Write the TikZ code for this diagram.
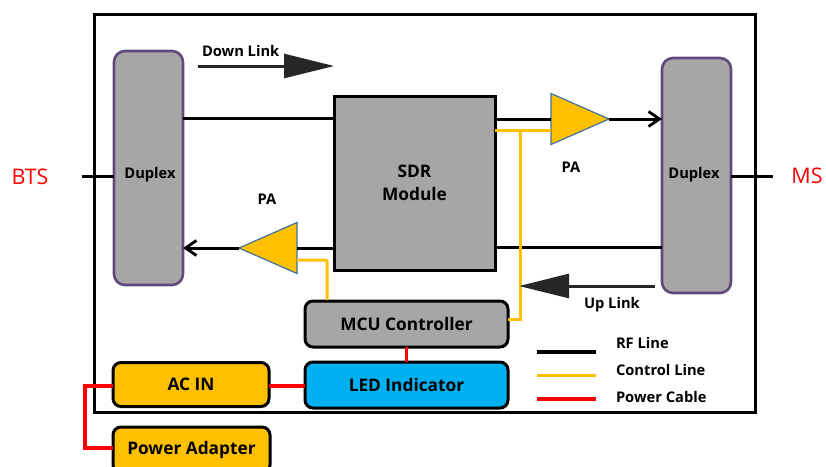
\documentclass[tikz,border=0pt]{standalone}
\usepackage{fontspec}
\setmainfont{Open Sans}
\usetikzlibrary{arrows.meta,shapes.geometric}
\definecolor{boxGray}{RGB}{166,166,166}
\definecolor{ctrlYellow}{RGB}{255,192,0}
\definecolor{ledBlue}{RGB}{0,176,240}
\definecolor{duplexEdge}{RGB}{96,74,123}
\definecolor{ampEdge}{RGB}{65,113,156}
\definecolor{linkDark}{RGB}{38,38,38}
\tikzset{
  lbl/.style={font=\bfseries\fontsize{14.7}{17}\selectfont,text=black,inner sep=0pt,outer sep=0pt},
  boxlbl/.style={font=\bfseries\fontsize{17.3}{23}\selectfont,text=black,align=center},
  block/.style={boxlbl,draw=black,line width=3pt,rounded corners=8pt,inner sep=0pt,outer sep=0pt},
  duplexbox/.style={draw=duplexEdge,fill=boxGray,line width=2.6pt,rounded corners=11pt,minimum width=69pt,minimum height=234pt,inner sep=0pt,outer sep=0pt},
  amp/.style={isosceles triangle,isosceles triangle stretches,draw=ampEdge,fill=ctrlYellow,line width=1.2pt,minimum width=51pt,minimum height=58pt,inner sep=0pt,outer sep=0pt},
  rfline/.style={draw=black,line width=3pt},
  ctrlline/.style={draw=ctrlYellow,line width=3pt},
  powerline/.style={draw=red,line width=3.2pt},
  rfarrow/.style={rfline,-{Straight Barb[length=11pt,width=15pt,line width=2.8pt]}},
  linkarrow/.style={draw=linkDark,line width=3pt,-{Triangle[length=50pt,width=24pt]}},
  sidelbl/.style={font=\fontsize{21.5}{24}\selectfont,text=red,inner sep=0pt}
}
\begin{document}
\begin{tikzpicture}[x=1pt,y=-1pt]
\useasboundingbox (0,0) rectangle (826,466);
% enclosure
\node[draw=black,line width=3pt,minimum width=661pt,minimum height=398pt,inner sep=0pt,outer sep=0pt] (case) at (424.5,213) {};

\node[duplexbox] (duplexL) at (148.5,168) {};
\node[duplexbox,minimum height=235pt] (duplexR) at (696.5,175.5) {};
\node[lbl] (duplexLLbl) at (150,175) {Duplex};
\node[lbl] (duplexRLbl) at (694,175) {Duplex};
\node[block,draw=black,fill=boxGray,rounded corners=0pt,minimum width=161pt,minimum height=174pt] (sdr) at (414.5,183) {SDR\\Module};

\node[amp,anchor=apex] (paTop) at (609,119) {};
\node[amp,shape border rotate=180,anchor=apex] (paBot) at (239,248) {};

\node[block,fill=boxGray,minimum width=203pt,minimum height=46pt] (mcu) at (406.5,324) {MCU Controller};
\node[block,fill=ledBlue,minimum width=203pt,minimum height=46pt] (led) at (406.5,385) {LED Indicator};
\node[block,fill=ctrlYellow,minimum width=156pt,minimum height=44pt] (acin) at (191,384.5) {AC IN};
\node[block,fill=ctrlYellow,minimum width=157pt,minimum height=46pt] (adapter) at (191.5,450) {Power Adapter};

\node[sidelbl] (bts) at (30,177) {BTS};
\node[sidelbl] (ms) at (807,176) {MS};
\coordinate (btsEnd) at (82,176);
\coordinate (msEnd) at (773,176);

\node[lbl] (paTopLbl) at (571,167) {PA};
\node[lbl] (paBotLbl) at (267,199) {PA};
\node[lbl,anchor=west] (downLbl) at (202,51) {Down Link};
\node[lbl,anchor=west] (upLbl) at (584,305) {Up Link};

% rf lines
\draw[rfline] (btsEnd) -- (duplexL.west |- btsEnd);
\draw[rfline] (duplexR.east |- msEnd) -- (msEnd);
\draw[rfline] (duplexL.east |- 0,118) -- (sdr.west |- 0,118);
\draw[rfline] (sdr.east |- paTop.apex) -- (paTop.west |- paTop.apex);
\draw[rfarrow] (paTop.apex) -- (duplexR.west |- paTop.apex);
\draw[rfline] (sdr.east |- 0,247) -- (duplexR.west |- 0,247);
\draw[rfline] (sdr.west |- paBot.apex) -- (297,248);
\draw[rfarrow] (paBot.apex) -- (duplexL.east |- paBot.apex);

% control lines
\draw[ctrlline] (sdr.east |- 0,130) -- (551,130);
\draw[ctrlline] (520,130) -- (520,319) -- (mcu.east |- 0,319);
\draw[ctrlline,rounded corners=2pt] (297,260) -- (327,260) -- (327,300);

% power lines
\draw[powerline] (mcu.south) -- (led.north);
\draw[powerline] (acin.east |- 0,386) -- (led.west |- 0,386);
\draw[powerline] (acin.west |- 0,386) -- (85,386) -- (85,448) -- (adapter.west |- 0,448);

% link arrows
\coordinate (downA) at (198,66);
\coordinate (downB) at (334,66);
\coordinate (upA) at (655,286);
\coordinate (upB) at (519,286);
\draw[linkarrow] (downA) -- (downB);
\draw[linkarrow] (upA) -- (upB);

% legend
\coordinate (rfA) at (537,352);
\coordinate (rfB) at (596,352);
\coordinate (ctrlA) at (537,375.5);
\coordinate (ctrlB) at (596,375.5);
\coordinate (powerA) at (537,399);
\coordinate (powerB) at (596,399);
\draw[rfline,line width=3.6pt] (rfA) -- (rfB);
\draw[ctrlline,line width=3.6pt] (ctrlA) -- (ctrlB);
\draw[powerline,line width=3.6pt] (powerA) -- (powerB);
\node[lbl,anchor=west] (rfLbl) at (616,343) {RF Line};
\node[lbl,anchor=west] (ctrlLbl) at (616,370) {Control Line};
\node[lbl,anchor=west] (powerLbl) at (616,397) {Power Cable};
\end{tikzpicture}
\end{document}
